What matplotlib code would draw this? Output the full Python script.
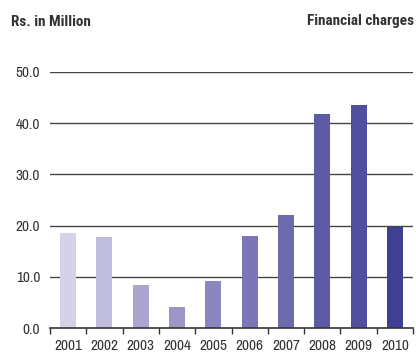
import matplotlib.pyplot as plt

years = ['2001', '2002', '2003', '2004', '2005', '2006', '2007', '2008', '2009', '2010']
charges = [18.6, 17.8, 8.4, 4.2, 9.2, 18.0, 22.1, 41.8, 43.5, 19.7]
bar_colors = ['#d5d2e8', '#c0bcdc', '#aba6d0', '#9d97c8', '#8c86c0',
              '#7d76b6', '#6f69ae', '#5f5aa6', '#524e9e', '#403f96']
yticks = [0, 10, 20, 30, 40, 50]

plt.rcParams['font.family'] = ['Archivo Narrow', 'Liberation Sans', 'DejaVu Sans']
title_font = ['Roboto Condensed', 'Liberation Sans', 'DejaVu Sans']

fig = plt.figure(figsize=(4.16, 3.54), dpi=100)
ax = fig.add_axes([50 / 416, 25.7 / 354, 363 / 416, 256.6 / 354])

x = list(range(len(years)))
ax.bar(x, charges, width=0.44, color=bar_colors, zorder=2)

ax.set_xlim(-0.5, len(years) - 0.5)
ax.set_ylim(0, 50)
ax.set_yticks(yticks)
ax.set_yticklabels(['%.1f' % v for v in yticks], fontsize=11, color='#333333')
for v in yticks[1:]:
    ax.axhline(v, color='#444444', lw=1, zorder=1)

# year labels centred under bars, tick marks on the category borders
ax.set_xticks(x)
ax.set_xticklabels(years, fontsize=11, color='#333333')
ax.tick_params(axis='x', length=0, pad=8)
ax.tick_params(axis='y', length=0, pad=7)
ax.set_xticks([i - 0.5 for i in range(len(years) + 1)], minor=True)
ax.tick_params(axis='x', which='minor', length=4, width=1, color='#333333', direction='out')

for s in ['top', 'right', 'left']:
    ax.spines[s].set_visible(False)
ax.spines['bottom'].set_color('#333333')
ax.spines['bottom'].set_linewidth(1.2)

fig.text(11 / 416, 1 - 21.5 / 354, 'Rs. in Million', fontsize=11, fontweight='bold',
         family=title_font, color='#333333', ha='left', va='center')
fig.text(414 / 416, 1 - 21.5 / 354, 'Financial charges', fontsize=11, fontweight='bold',
         family=title_font, color='#333333', ha='right', va='center')

fig.savefig('out.png', dpi=100)
